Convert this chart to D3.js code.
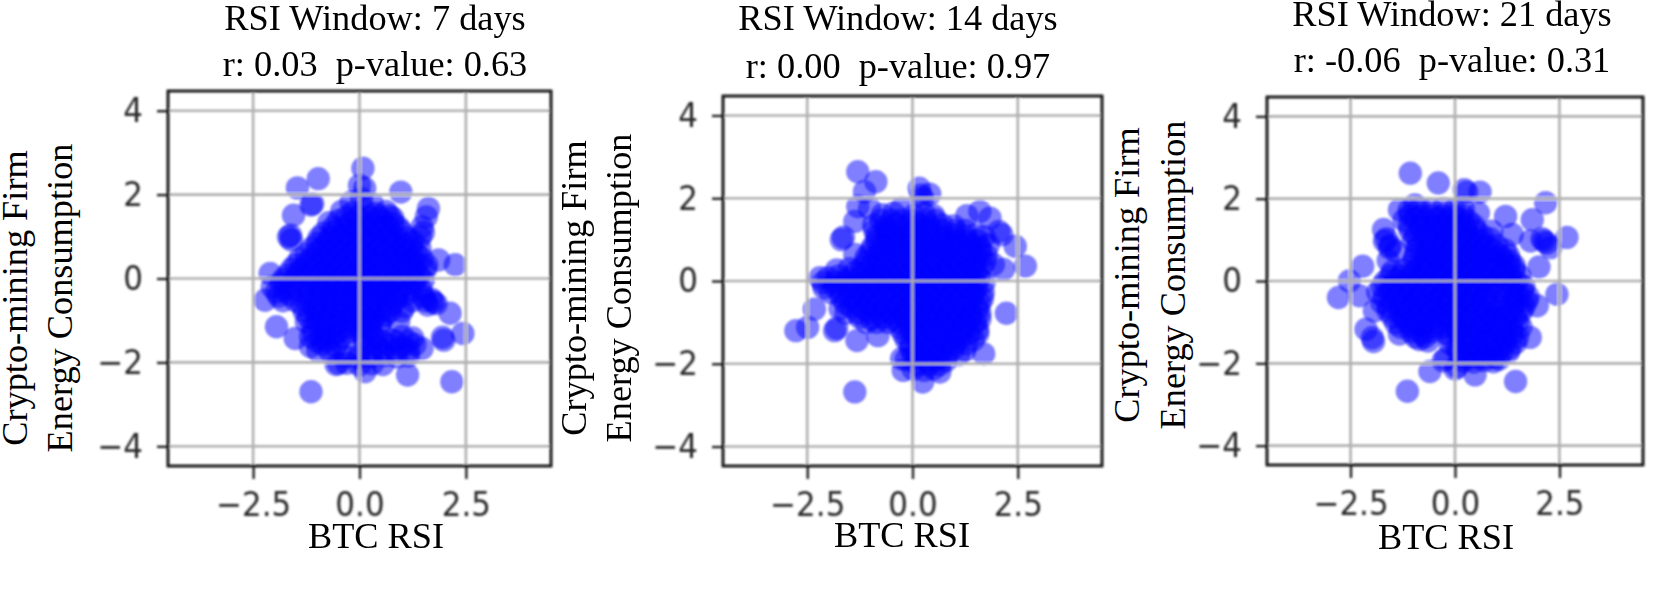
<!doctype html>
<html>

<head>
    <meta charset="UTF-8">
    <title>BTC RSI vs energy consumption</title>
    <script src="https://d3js.org/d3.v7.min.js"></script>
    <style>
        body { margin: 0; background: #fff; }
        svg { display: block; }
        .serif { font-family: "Liberation Serif", serif; font-size: 36.3px; fill: #000; white-space: pre; }
        .tick text { font-family: "DejaVu Sans", sans-serif; font-size: 31px; fill: #2a2a2a; }
    </style>
</head>

<body>
    <script>
        // chart values
        var windows = [7, 14, 21];
        var rValues = ["0.03", "0.00", "-0.06"];
        var pValues = ["0.63", "0.97", "0.31"];
        var xTicks = [-2.5, 0, 2.5];
        var yTicks = [-4, -2, 0, 2, 4];
        var xLabel = "BTC RSI";
        var yLabelTop = "Crypto-mining Firm";
        var yLabelBottom = "Energy Consumption";

        var points7 = [
            [0.08,2.63],[-0.97,2.38],[-1.46,2.16],[0,2.22],[0.12,2.15],[0.97,2.06],[-1.14,1.75],[-1.1,1.78],[1.62,1.67],[-1.55,1.51],[1.57,1.47],
            [-1.67,0.99],[-1.62,1.03],[-1.6,0.92],[1.47,1.23],[1.43,0.99],[1.5,1.1],[2.25,0.33],[1.86,0.44],[-2.1,0.12],[-2.22,-0.52],[-1.95,-0.32],[-2.05,-0.2],
            [-1.95,-1.15],[-1.51,-1.43],[-1.14,-2.7],[-0.49,-2.02],[0.13,-2.22],[1.13,-2.3],[2.17,-2.46],[2.43,-1.31],[1.98,-1.47],[1.95,-1.4],[2.13,-0.83],
            [1.74,-0.56],[1.7,-0.5],[1.8,-0.6],[1.47,-1.67],[0.76,-1.47],[0.92,-1.03],[0.7,1.5],[0.78,1.44],
            [-0.2,1.82],[0.05,1.9],[0.3,1.78],
            [-0.42,1.6],[-0.15,1.58],[0.12,1.64],[0.38,1.55],[0.62,1.6],
            [-0.72,1.33],[-0.5,1.38],[-0.22,1.32],[0.05,1.37],[0.3,1.3],[0.55,1.36],[0.8,1.32],
            [-0.85,1.08],[-0.6,1.12],[-0.33,1.06],[-0.08,1.12],[0.2,1.08],[0.45,1.1],[0.72,1.05],[0.98,1.12],
            [-1,0.84],[-0.75,0.87],[-0.5,0.82],[-0.25,0.86],[0.02,0.83],[0.28,0.87],[0.52,0.82],[0.78,0.86],[1.05,0.82],[1.25,0.88],
            [-1.25,0.58],[-1,0.62],[-0.72,0.58],[-0.47,0.62],[-0.2,0.58],[0.08,0.61],[0.33,0.57],[0.6,0.62],[0.85,0.58],[1.1,0.62],[1.35,0.57],
            [-1.5,0.33],[-1.25,0.37],[-0.97,0.33],[-0.7,0.36],[-0.45,0.32],[-0.18,0.36],[0.06,0.33],[0.32,0.37],[0.58,0.32],[0.83,0.36],[1.1,0.33],[1.35,0.37],[1.58,0.32],
            [-1.7,0.08],[-1.45,0.12],[-1.18,0.08],[-0.92,0.12],[-0.65,0.08],[-0.4,0.11],[-0.13,0.08],[0.12,0.12],[0.38,0.08],[0.63,0.11],[0.9,0.07],[1.15,0.12],[1.4,0.08],
            [-1.85,-0.13],[-1.6,-0.17],[-1.3,-0.13],[-1.05,-0.17],[-0.78,-0.13],[-0.52,-0.17],[-0.25,-0.13],[0,-0.17],[0.27,-0.13],[0.52,-0.17],[0.78,-0.13],[1.03,-0.17],[1.3,-0.13],
            [-1.9,-0.42],[-1.65,-0.38],[-1.2,-0.42],[-0.95,-0.38],[-0.68,-0.42],[-0.42,-0.38],[-0.15,-0.42],[0.1,-0.38],[0.37,-0.42],[0.62,-0.38],[0.88,-0.42],[1.1,-0.38],[1.5,-0.42],
            [-1.35,-0.63],[-1.05,-0.67],[-0.8,-0.63],[-0.55,-0.67],[-0.28,-0.63],[-0.02,-0.67],[0.25,-0.63],[0.5,-0.67],[0.75,-0.63],[1.05,-0.67],[1.6,-0.63],
            [-1.2,-0.92],[-0.95,-0.88],[-0.7,-0.92],[-0.42,-0.88],[-0.17,-0.92],[0.1,-0.88],[0.35,-0.92],[0.6,-0.88],
            [-1.1,-1.13],[-0.85,-1.17],[-0.58,-1.13],[-0.3,-1.17],[-0.05,-1.13],[0.25,-1.17],[0.48,-1.13],
            [-1.15,-1.38],[-0.9,-1.42],[-0.62,-1.38],[-0.35,-1.42],[0.1,-1.38],[0.35,-1.42],[1,-1.38],[1.25,-1.42],
            [-1.15,-1.62],[-0.85,-1.58],[-0.55,-1.62],[0.12,-1.58],[0.42,-1.62],[0.7,-1.58],[1,-1.62],[1.3,-1.58],
            [-0.35,-1.85],[-0.05,-1.88],[0,-1.82],[0.28,-1.86],[0.6,-1.83],[0.88,-1.87],[1.15,-1.84],
            [-0.55,-2.05],[-0.3,-2.02],[0,-2.06],[0.3,-2.03],[0.55,-2.05],
            [-0.3,1.47],[-0.05,1.47],[0.22,1.47],[0.48,1.47],
            [-0.62,1.22],[-0.35,1.22],[-0.1,1.22],[0.17,1.22],[0.42,1.22],[0.68,1.22],[0.92,1.22],
            [-0.95,0.97],[-0.7,0.97],[-0.45,0.97],[-0.18,0.97],[0.08,0.97],[0.35,0.97],[0.62,0.97],[0.88,0.97],[1.12,0.97],
            [-1.12,0.72],[-0.87,0.72],[-0.6,0.72],[-0.35,0.72],[-0.08,0.72],[0.18,0.72],[0.45,0.72],[0.7,0.72],[0.97,0.72],[1.22,0.72],[1.42,0.72],
            [-1.4,0.47],[-1.12,0.47],[-0.85,0.47],[-0.58,0.47],[-0.32,0.47],[-0.05,0.47],[0.2,0.47],[0.47,0.47],[0.72,0.47],[0.98,0.47],[1.22,0.47],[1.47,0.47],
            [-1.6,0.22],[-1.35,0.22],[-1.07,0.22],[-0.8,0.22],[-0.55,0.22],[-0.27,0.22],[-0.02,0.22],[0.25,0.22],[0.5,0.22],[0.77,0.22],[1.02,0.22],[1.28,0.22],[1.55,0.22],
            [-1.8,-0.03],[-1.55,-0.03],[-1.3,-0.03],[-1.02,-0.03],[-0.78,-0.03],[-0.52,-0.03],[-0.25,-0.03],[0,-0.03],[0.25,-0.03],[0.52,-0.03],[0.77,-0.03],[1.02,-0.03],[1.28,-0.03],[1.5,-0.03],
            [-1.75,-0.28],[-1.45,-0.28],[-1.18,-0.28],[-0.9,-0.28],[-0.65,-0.28],[-0.38,-0.28],[-0.12,-0.28],[0.13,-0.28],[0.4,-0.28],[0.65,-0.28],[0.92,-0.28],[1.2,-0.28],[1.45,-0.28],
            [-1.8,-0.53],[-1.5,-0.53],[-1.25,-0.53],[-0.98,-0.53],[-0.7,-0.53],[-0.45,-0.53],[-0.18,-0.53],[0.08,-0.53],[0.33,-0.53],[0.6,-0.53],[0.85,-0.53],[1.25,-0.53],[1.55,-0.53],
            [-1.3,-0.78],[-1.02,-0.78],[-0.78,-0.78],[-0.5,-0.78],[-0.25,-0.78],[0,-0.78],[0.25,-0.78],[0.5,-0.78],[0.72,-0.78],[1,-0.78],
            [-1.25,-1.03],[-1,-1.03],[-0.75,-1.03],[-0.5,-1.03],[-0.22,-1.03],[0.02,-1.03],[0.27,-1.03],[0.5,-1.03],
            [-1.08,-1.28],[-0.8,-1.28],[-0.52,-1.28],[-0.25,-1.28],[0,-1.28],[0.28,-1.28],
            [-1,-1.5],[-0.75,-1.5],[-0.48,-1.5],[0.25,-1.5],[0.55,-1.5],[0.85,-1.5],[1.15,-1.5],
            [-0.98,-1.72],[-0.7,-1.72],[0.25,-1.72],[0.55,-1.72],[0.85,-1.72],[1.15,-1.72]
        ];

        var points14 = [
            [-1.3,2.64],[-0.87,2.4],[-1.14,2.16],[0.16,2.24],[0.41,2.1],[0.2,2.08],[0.24,2.0],[-1.3,1.8],[-1.02,1.76],[-0.26,1.76],[1.29,1.58],[1.6,1.68],[1.84,1.52],
            [-1.69,1.0],[-1.64,1.06],[2.12,1.12],[2.05,1.2],[2.44,0.84],[2.68,0.36],[2.16,0.28],[1.92,0.4],[-1.37,1.44],[-1.37,0.64],[1.68,-0.28],[2.23,-0.78],
            [-2.33,-0.68],[-2.49,-1.12],[-2.77,-1.2],[-1.85,-1.2],[-1.8,-1.14],[-1.32,-1.44],[-0.82,-1.32],[-1.37,-2.68],[1.69,-1.76],[-0.26,-1.88],[-0.22,-2.16],[0.65,-2.2],[0.24,-2.44],
            [-2.13,-0.04],[-2.2,0.08],
            [-0.72,1.6],[-0.45,1.64],[0.02,1.58],[0.28,1.62],[0.5,1.58],
            [-0.92,1.35],[-0.65,1.32],[-0.4,1.37],[-0.12,1.33],[0.15,1.37],[0.42,1.32],[0.7,1.36],[0.98,1.33],
            [-0.85,1.08],[-0.6,1.12],[-0.35,1.08],[-0.08,1.12],[0.2,1.08],[0.45,1.11],[0.72,1.07],[0.98,1.12],[1.25,1.08],[1.5,1.12],[1.7,1.07],
            [-0.95,0.83],[-0.7,0.87],[-0.45,0.83],[-0.18,0.87],[0.08,0.83],[0.33,0.87],[0.6,0.83],[0.85,0.87],[1.12,0.83],[1.38,0.87],[1.6,0.83],[1.8,0.87],
            [-1.1,0.58],[-0.85,0.62],[-0.58,0.58],[-0.32,0.62],[-0.05,0.58],[0.22,0.62],[0.48,0.58],[0.75,0.62],[1,0.58],[1.25,0.62],[1.5,0.58],[1.75,0.62],
            [-1.2,0.33],[-0.95,0.37],[-0.7,0.33],[-0.43,0.37],[-0.17,0.33],[0.1,0.37],[0.36,0.33],[0.62,0.37],[0.88,0.33],[1.15,0.37],[1.4,0.33],[1.65,0.36],[-1.5,0.3],[-1.8,0.27],
            [-2,0.08],[-1.75,0.12],[-1.5,0.08],[-1.25,0.12],[-1,0.08],[-0.75,0.12],[-0.48,0.08],[-0.22,0.12],[0.04,0.08],[0.3,0.12],[0.55,0.08],[0.82,0.12],[1.08,0.08],[1.35,0.12],[1.58,0.08],
            [-2.1,-0.17],[-1.85,-0.13],[-1.55,-0.17],[-1.3,-0.13],[-1.05,-0.17],[-0.8,-0.13],[-0.55,-0.17],[-0.28,-0.13],[-0.02,-0.17],[0.25,-0.13],[0.5,-0.17],[0.77,-0.13],[1.02,-0.17],[1.28,-0.13],[1.52,-0.17],
            [-1.7,-0.38],[-1.45,-0.42],[-1.2,-0.38],[-0.95,-0.42],[-0.68,-0.38],[-0.42,-0.42],[-0.15,-0.38],[0.1,-0.42],[0.37,-0.38],[0.62,-0.42],[0.88,-0.38],[1.15,-0.42],[1.42,-0.38],[1.66,-0.42],
            [-1.72,-0.67],[-1.45,-0.63],[-1.15,-0.67],[-0.9,-0.63],[-0.62,-0.67],[-0.35,-0.63],[-0.08,-0.67],[0.2,-0.63],[0.45,-0.67],[0.72,-0.63],[1,-0.67],[1.25,-0.63],[1.55,-0.67],
            [-1.25,-0.88],[-0.98,-0.92],[-0.7,-0.88],[-0.45,-0.92],[-0.18,-0.88],[0.08,-0.92],[0.33,-0.88],[0.6,-0.92],[0.85,-0.88],[1.12,-0.92],[1.38,-0.88],[1.6,-0.92],
            [-0.3,-1.13],[-0.05,-1.17],[0.2,-1.13],[0.45,-1.17],[0.72,-1.13],[0.98,-1.17],[1.25,-1.13],[1.55,-1.17],
            [-0.15,-1.42],[0.1,-1.38],[0.35,-1.42],[0.62,-1.38],[0.88,-1.42],[1.12,-1.38],[1.45,-1.42],
            [-0.05,-1.63],[0.2,-1.67],[0.45,-1.63],[0.72,-1.67],[0.98,-1.63],[1.25,-1.67],
            [-0.15,-1.9],[0.1,-1.87],[0.35,-1.92],[0.6,-1.88],[0.8,-1.92],
            [0.02,-2.13],[0.28,-2.16],[0.5,-2.12],
            [-0.75,1.47],[-0.5,1.47],[-0.25,1.47],[0.02,1.47],[0.3,1.47],[0.55,1.47],
            [-0.9,1.22],[-0.62,1.22],[-0.38,1.22],[-0.1,1.22],[0.17,1.22],[0.43,1.22],[0.7,1.22],[1,1.22],[1.25,1.22],
            [-0.85,0.97],[-0.58,0.97],[-0.32,0.97],[-0.05,0.97],[0.22,0.97],[0.48,0.97],[0.75,0.97],[1.02,0.97],[1.3,0.97],[1.55,0.97],
            [-1,0.72],[-0.75,0.72],[-0.48,0.72],[-0.22,0.72],[0.05,0.72],[0.3,0.72],[0.58,0.72],[0.82,0.72],[1.1,0.72],[1.35,0.72],[1.62,0.72],
            [-1.1,0.47],[-0.85,0.47],[-0.6,0.47],[-0.33,0.47],[-0.05,0.47],[0.2,0.47],[0.47,0.47],[0.72,0.47],[0.98,0.47],[1.25,0.47],[1.5,0.47],[1.72,0.47],
            [-1.35,0.22],[-1.08,0.22],[-0.82,0.22],[-0.55,0.22],[-0.3,0.22],[-0.03,0.22],[0.22,0.22],[0.48,0.22],[0.75,0.22],[1,0.22],[1.28,0.22],[1.5,0.22],
            [-1.85,-0.03],[-1.6,-0.03],[-1.35,-0.03],[-1.1,-0.03],[-0.85,-0.03],[-0.6,-0.03],[-0.33,-0.03],[-0.08,-0.03],[0.18,-0.03],[0.43,-0.03],[0.7,-0.03],[0.95,-0.03],[1.22,-0.03],[1.48,-0.03],[1.7,-0.03],
            [-1.95,-0.28],[-1.7,-0.28],[-1.42,-0.28],[-1.18,-0.28],[-0.92,-0.28],[-0.65,-0.28],[-0.4,-0.28],[-0.12,-0.28],[0.12,-0.28],[0.4,-0.28],[0.65,-0.28],[0.92,-0.28],[1.18,-0.28],[1.45,-0.28],
            [-1.6,-0.53],[-1.32,-0.53],[-1.05,-0.53],[-0.8,-0.53],[-0.52,-0.53],[-0.25,-0.53],[0,-0.53],[0.27,-0.53],[0.52,-0.53],[0.78,-0.53],[1.05,-0.53],[1.32,-0.53],[1.6,-0.53],
            [-1.58,-0.78],[-1.3,-0.78],[-1.02,-0.78],[-0.75,-0.78],[-0.5,-0.78],[-0.22,-0.78],[0.05,-0.78],[0.32,-0.78],[0.58,-0.78],[0.83,-0.78],[1.1,-0.78],[1.38,-0.78],[1.6,-0.78],
            [-1.1,-1],[-0.85,-1],[-0.58,-1],[-0.32,-1],[-0.05,-1],[0.2,-1],[0.47,-1],[0.72,-1],[1,-1],[1.25,-1],[1.5,-1],
            [-0.22,-1.27],[0.05,-1.27],[0.32,-1.27],[0.58,-1.27],[0.85,-1.27],[1.1,-1.27],[1.35,-1.27],[1.55,-1.27],
            [-0.05,-1.52],[0.2,-1.52],[0.48,-1.52],[0.75,-1.52],[1,-1.52],[1.28,-1.52],
            [0.02,-1.78],[0.27,-1.78],[0.55,-1.78],[0.82,-1.78],[1.1,-1.78],
            [0.12,-2.02],[0.4,-2.02],[0.65,-2.02]
        ];

        var points21 = [
            [-1.07,2.62],[-0.4,2.38],[0.22,2.22],[0.28,2.16],[0.6,2.16],[-0.96,1.85],[-1.33,1.73],[2.17,1.9],[0.56,1.65],[1.21,1.57],[1.85,1.49],[-1.71,1.25],
            [2.68,1.06],[1.37,1.13],[0.88,1.21],[1.81,0.97],[2.13,0.97],[2.08,1.03],[2.2,0.92],[2.29,0.81],[2.01,0.34],[-2.21,0.36],[-2.53,0],[-2.79,-0.4],[-2.29,-0.36],
            [-2.13,-1.17],[-1.95,-1.47],[-1.98,-1.38],[2.44,-0.32],[1.97,-0.6],[1.8,-1.37],[-1.14,-2.68],[1.45,-2.44],[-0.6,-2.2],[0.48,-2.28],[0,-2.14],[0.05,-2.08],[-0.28,-1.94],[-0.22,-1.88],
            [-1.33,-1.29],[1.05,-1.9],[-1.69,0.97],[-1.64,1.02],[-1.57,0.8],[-1.93,-0.73],
            [-1.1,1.72],[-0.85,1.77],[-0.55,1.72],[-0.28,1.76],[-0.02,1.72],[0.2,1.75],
            [-1.22,1.48],[-0.95,1.52],[-0.7,1.47],[-0.42,1.52],[-0.15,1.48],[0.1,1.5],[0.32,1.46],
            [-1.08,1.23],[-0.82,1.27],[-0.55,1.23],[-0.28,1.27],[-0.02,1.23],[0.25,1.27],[0.5,1.23],
            [-1,0.98],[-0.72,1.02],[-0.45,0.98],[-0.18,1.02],[0.08,0.98],[0.35,1.02],[0.6,0.98],[0.85,1.02],
            [-1.42,0.73],[-0.92,0.77],[-0.65,0.73],[-0.38,0.77],[-0.12,0.73],[0.15,0.77],[0.42,0.73],[0.68,0.77],[0.95,0.73],[1.2,0.75],
            [-1.6,0.5],[-0.98,0.52],[-0.7,0.48],[-0.45,0.52],[-0.18,0.48],[0.08,0.52],[0.35,0.48],[0.6,0.52],[0.88,0.48],[1.13,0.52],[1.32,0.48],
            [-1.5,0.23],[-1.22,0.27],[-0.97,0.23],[-0.7,0.27],[-0.43,0.23],[-0.17,0.27],[0.1,0.23],[0.36,0.27],[0.62,0.23],[0.88,0.27],[1.15,0.23],[1.42,0.27],
            [-1.68,-0.02],[-1.42,0.02],[-1.17,-0.02],[-0.9,0.02],[-0.63,-0.02],[-0.37,0.02],[-0.1,-0.02],[0.15,0.02],[0.42,-0.02],[0.68,0.02],[0.95,-0.02],[1.2,0.02],[1.48,-0.02],
            [-1.85,-0.27],[-1.58,-0.23],[-1.3,-0.27],[-1.05,-0.23],[-0.78,-0.27],[-0.52,-0.23],[-0.25,-0.27],[0.02,-0.23],[0.28,-0.27],[0.55,-0.23],[0.8,-0.27],[1.08,-0.23],[1.35,-0.27],[1.62,-0.23],
            [-1.75,-0.52],[-1.48,-0.48],[-1.2,-0.52],[-0.95,-0.48],[-0.68,-0.52],[-0.42,-0.48],[-0.15,-0.52],[0.12,-0.48],[0.38,-0.52],[0.65,-0.48],[0.92,-0.52],[1.18,-0.48],[1.45,-0.52],[1.72,-0.48],
            [-1.6,-0.73],[-1.33,-0.77],[-1.08,-0.73],[-0.8,-0.77],[-0.55,-0.73],[-0.28,-0.77],[-0.02,-0.73],[0.25,-0.77],[0.52,-0.73],[0.78,-0.77],[1.05,-0.73],[1.32,-0.77],[1.6,-0.73],
            [-1.42,-1.02],[-1.17,-0.98],[-0.9,-1.02],[-0.63,-0.98],[-0.37,-1.02],[-0.1,-0.98],[0.17,-1.02],[0.43,-0.98],[0.7,-1.02],[0.97,-0.98],[1.23,-1.02],[1.5,-0.98],
            [-1.05,-1.23],[-0.78,-1.27],[-0.55,-1.23],[-0.2,-1.27],[0.05,-1.23],[0.3,-1.27],[0.57,-1.23],[0.82,-1.27],[1.1,-1.23],[1.38,-1.27],
            [-0.85,-1.42],[-0.65,-1.46],[-0.12,-1.52],[0.15,-1.48],[0.42,-1.52],[0.68,-1.48],[0.95,-1.52],[1.22,-1.48],[1.45,-1.5],
            [0.08,-1.73],[0.33,-1.77],[0.58,-1.73],[0.85,-1.77],[1.12,-1.73],[1.28,-1.72],
            [0.2,-1.94],[0.45,-1.97],[0.7,-1.93],[0.92,-1.96],
            [-1.08,1.6],[-0.8,1.6],[-0.55,1.6],[-0.3,1.6],[-0.05,1.6],[0.18,1.6],
            [-1.1,1.35],[-0.82,1.35],[-0.55,1.35],[-0.28,1.35],[-0.02,1.35],[0.22,1.35],[0.45,1.35],
            [-0.95,1.1],[-0.68,1.1],[-0.42,1.1],[-0.15,1.1],[0.12,1.1],[0.38,1.1],[0.65,1.1],
            [-1.55,0.86],[-0.88,0.86],[-0.58,0.86],[-0.32,0.86],[-0.05,0.86],[0.22,0.86],[0.5,0.86],[0.75,0.86],[1,0.86],
            [-0.95,0.62],[-0.72,0.62],[-0.45,0.62],[-0.18,0.62],[0.08,0.62],[0.33,0.62],[0.6,0.62],[0.85,0.62],[1.1,0.62],[1.28,0.62],
            [-1.05,0.37],[-0.82,0.37],[-0.55,0.37],[-0.3,0.37],[-0.03,0.37],[0.23,0.37],[0.5,0.37],[0.77,0.37],[1.02,0.37],[1.28,0.37],[1.42,0.37],
            [-1.55,0.12],[-1.3,0.12],[-1.03,0.12],[-0.78,0.12],[-0.5,0.12],[-0.25,0.12],[0.02,0.12],[0.28,0.12],[0.53,0.12],[0.8,0.12],[1.05,0.12],[1.32,0.12],[1.55,0.12],
            [-1.75,-0.13],[-1.5,-0.13],[-1.22,-0.13],[-0.97,-0.13],[-0.7,-0.13],[-0.43,-0.13],[-0.18,-0.13],[0.08,-0.13],[0.35,-0.13],[0.6,-0.13],[0.87,-0.13],[1.13,-0.13],[1.4,-0.13],[1.65,-0.13],
            [-1.7,-0.38],[-1.4,-0.38],[-1.15,-0.38],[-0.88,-0.38],[-0.6,-0.38],[-0.35,-0.38],[-0.08,-0.38],[0.18,-0.38],[0.45,-0.38],[0.7,-0.38],[1.4,-0.38],[1.52,-0.38],[1.75,-0.38],
            [-1.6,-0.62],[-1.28,-0.62],[-1.02,-0.62],[-0.75,-0.62],[-0.48,-0.62],[-0.22,-0.62],[0.05,-0.62],[0.3,-0.62],[0.58,-0.62],[0.85,-0.62],[1.1,-0.62],[1.38,-0.62],[1.65,-0.62],
            [-1.5,-0.87],[-1.22,-0.87],[-0.95,-0.87],[-0.68,-0.87],[-0.42,-0.87],[-0.15,-0.87],[0.1,-0.87],[0.38,-0.87],[0.65,-0.87],[0.92,-0.87],[1.18,-0.87],[1.45,-0.87],
            [-1.3,-1.12],[-1.05,-1.12],[-0.78,-1.12],[-0.5,-1.12],[-0.25,-1.12],[0.02,-1.12],[0.28,-1.12],[0.55,-1.12],[0.82,-1.12],[1.08,-1.12],[1.35,-1.12],[1.58,-1.12],
            [-0.95,-1.36],[-0.72,-1.36],[-0.12,-1.36],[0.15,-1.36],[0.42,-1.36],[0.7,-1.36],[0.95,-1.36],[1.22,-1.36],[1.5,-1.36],
            [0.05,-1.62],[0.3,-1.62],[0.55,-1.62],[0.82,-1.62],[1.08,-1.62],[1.32,-1.62],
            [0.2,-1.85],[0.45,-1.85],[0.7,-1.85],[0.95,-1.85]
        ];

        var allPoints = [points7, points14, points21];

        // layout of each panel in page pixels
        var frames = [
            {left: 168, right: 551, top: 91, bottom: 466, titleX: 375, titleY: [30, 76], labelX: [27, 72], labelY: 298, xLabelX: 376, xLabelY: 548},
            {left: 723, right: 1102, top: 96, bottom: 466, titleX: 898, titleY: [30, 78], labelX: [586, 631], labelY: 288, xLabelX: 902, xLabelY: 547},
            {left: 1267, right: 1643, top: 97, bottom: 465, titleX: 1452, titleY: [26, 72], labelX: [1139, 1185], labelY: 275, xLabelX: 1446, xLabelY: 549}
        ];

        var w = 1661;
        var h = 595;
        var svg = d3.select("body").append("svg").attr("width", w).attr("height", h);

        var defs = svg.append("defs");
        defs.append("filter").attr("id", "soft").append("feGaussianBlur").attr("stdDeviation", 0.9);

        windows.forEach(function (win, i) {
            drawPanel(frames[i], win, rValues[i], pValues[i], allPoints[i]);
        });

        function drawPanel(f, win, r, p, data) {
            var x = d3.scaleLinear().domain([-4.5, 4.5]).range([f.left, f.right]);
            var y = d3.scaleLinear().domain([-4.47, 4.47]).range([f.bottom, f.top]);
            var g = svg.append("g");
            var soft = g.append("g").attr("filter", "url(#soft)");

            soft.append("g").selectAll("circle").data(data).enter().append("circle")
                .attr("cx", function (d) { return x(d[0]); })
                .attr("cy", function (d) { return y(d[1]); })
                .attr("r", 11.7)
                .attr("fill", "#0000ff")
                .attr("fill-opacity", 0.5);

            // grid goes over the points, as in the picture
            var xAxis = d3.axisBottom(x).tickValues(xTicks).tickFormat(d3.format(".1f")).tickSize(13).tickPadding(10);
            var yAxis = d3.axisLeft(y).tickValues(yTicks).tickFormat(d3.format("d")).tickSize(11).tickPadding(14);

            soft.append("g").selectAll("line").data(xTicks).enter().append("line")
                .attr("x1", x).attr("x2", x).attr("y1", f.top).attr("y2", f.bottom)
                .attr("stroke", "#b0b0b0").attr("stroke-width", 2.6);
            soft.append("g").selectAll("line").data(yTicks).enter().append("line")
                .attr("x1", f.left).attr("x2", f.right).attr("y1", y).attr("y2", y)
                .attr("stroke", "#b0b0b0").attr("stroke-width", 2.6);

            var ax = soft.append("g").attr("transform", "translate(0," + f.bottom + ")").call(xAxis);
            var ay = soft.append("g").attr("transform", "translate(" + f.left + ",0)").call(yAxis);
            ax.select(".domain").remove();
            ay.select(".domain").remove();
            ax.selectAll(".tick line").attr("stroke", "#222").attr("stroke-width", 2.4);
            ay.selectAll(".tick line").attr("stroke", "#222").attr("stroke-width", 2.4);
            // the tick digits in the picture are a bit taller than they are wide
            ax.selectAll(".tick text").attr("transform", "scale(1,1.1)");
            ay.selectAll(".tick text").attr("transform", "scale(1,1.1)");

            soft.append("rect")
                .attr("x", f.left).attr("y", f.top)
                .attr("width", f.right - f.left).attr("height", f.bottom - f.top)
                .attr("fill", "none").attr("stroke", "#111").attr("stroke-width", 2.8);

            g.append("text").attr("class", "serif").attr("text-anchor", "middle")
                .attr("x", f.titleX).attr("y", f.titleY[0])
                .text("RSI Window: " + win + " days");
            g.append("text").attr("class", "serif").attr("text-anchor", "middle")
                .attr("x", f.titleX).attr("y", f.titleY[1])
                .text("r: " + r + "  p-value: " + p);
            g.append("text").attr("class", "serif").attr("text-anchor", "middle")
                .attr("x", f.xLabelX).attr("y", f.xLabelY)
                .text(xLabel);
            [yLabelTop, yLabelBottom].forEach(function (t, k) {
                g.append("text").attr("class", "serif").attr("text-anchor", "middle")
                    .attr("transform", "translate(" + f.labelX[k] + "," + f.labelY + ") rotate(-90)")
                    .text(t);
            });
        }
    </script>
</body>

</html>
